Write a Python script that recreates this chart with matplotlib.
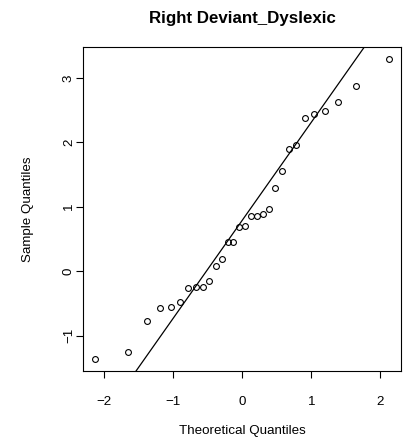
import numpy as np
import matplotlib
matplotlib.use('Agg')
import matplotlib.pyplot as plt
from statistics import NormalDist

plt.rcParams['font.family'] = ['Liberation Sans', 'DejaVu Sans']

title = 'Right Deviant_Dyslexic'
xlabel = 'Theoretical Quantiles'
ylabel = 'Sample Quantiles'

# sample values (sorted)
sample = [-1.365, -1.26, -0.77, -0.57, -0.55, -0.485, -0.26, -0.24, -0.24, -0.16,
          0.085, 0.19, 0.45, 0.45, 0.68, 0.70, 0.86, 0.86, 0.88, 0.97,
          1.29, 1.56, 1.90, 1.96, 2.38, 2.44, 2.48, 2.62, 2.87, 3.29]
xticks = [-2, -1, 0, 1, 2]
yticks = [-1, 0, 1, 2, 3]

y = np.sort(np.array(sample))
n = len(y)
nd = NormalDist()
x = np.array([nd.inv_cdf((i + 0.5) / n) for i in range(n)])

# qqline through the quartiles
q1, q3 = np.quantile(y, [0.25, 0.75])
t1, t3 = nd.inv_cdf(0.25), nd.inv_cdf(0.75)
slope = (q3 - q1) / (t3 - t1)
icpt = q1 - slope * t1

W, H = 404, 442
fig = plt.figure(figsize=(W / 100, H / 100), dpi=100)
l, r, t, b = 83.3, 401, 47.3, 371
ax = fig.add_axes([l / W, 1 - b / H, (r - l) / W, (b - t) / H])

ax.plot(x, y, 'o', mfc='none', mec='black', ms=4.2, mew=0.8)

def pad(lo, hi):
    d = (hi - lo) * 0.04
    return lo - d, hi + d

ax.set_xlim(pad(x.min(), x.max()))
ax.set_ylim(pad(y.min(), y.max()))
ax.axline((0, icpt), slope=slope, color='black', lw=0.9)

fs = 9.6
ax.set_xticks(xticks)
ax.set_yticks(yticks)
ax.tick_params(direction='out', length=5.2, width=0.8, labelsize=fs)
ax.tick_params(axis='x', pad=12.5)
ax.tick_params(axis='y', pad=0.8)
for lab in ax.get_yticklabels():
    lab.set_rotation(90)
    lab.set_va('center')
for s in ax.spines.values():
    s.set_linewidth(0.8)

ax.set_xlabel(xlabel, fontsize=fs)
ax.xaxis.set_label_coords(0.5, (b - 431) / (b - t))
ax.xaxis.label.set_va('center')
ax.set_ylabel(ylabel, fontsize=fs)
ax.yaxis.set_label_coords((28 - l) / (r - l), 0.5)
ax.yaxis.label.set_va('center')

fig.text((l + r) / 2 / W, 1 - 22.7 / H, title, ha='center', va='baseline',
         fontsize=12.2, fontweight='bold')

fig.savefig('out.png', dpi=100)
